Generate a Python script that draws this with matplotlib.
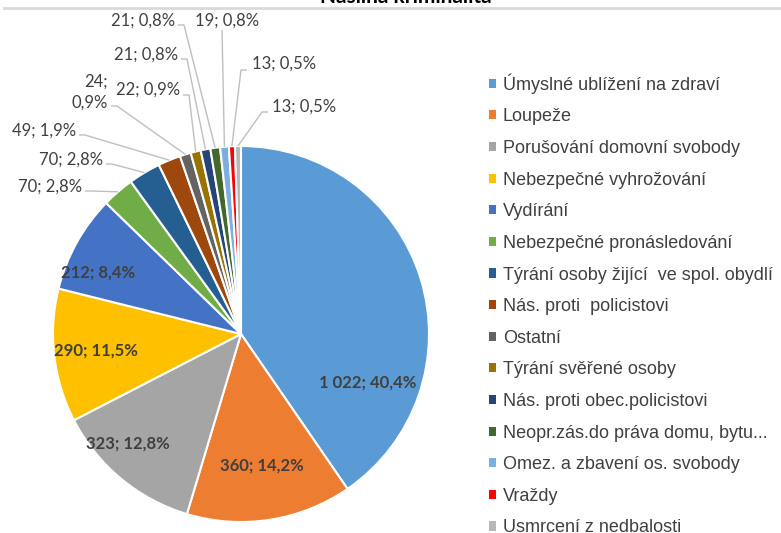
import matplotlib
matplotlib.use("Agg")
import matplotlib.pyplot as plt
import numpy as np

categories = [
    "Úmyslné ublížení na zdraví",
    "Loupeže",
    "Porušování domovní svobody",
    "Nebezpečné vyhrožování",
    "Vydírání",
    "Nebezpečné pronásledování",
    "Týrání osoby žijící  ve spol. obydlí",
    "Nás. proti  policistovi",
    "Ostatní",
    "Týrání svěřené osoby",
    "Nás. proti obec.policistovi",
    "Neopr.zás.do práva domu, bytu...",
    "Omez. a zbavení os. svobody",
    "Vraždy",
    "Usmrcení z nedbalosti",
]
values = [1022, 360, 323, 290, 212, 70, 70, 49, 24, 22, 21, 21, 19, 13, 13]
colors = ["#5B9BD5", "#ED7D31", "#A5A5A5", "#FFC000", "#4472C4", "#70AD47",
          "#255E91", "#9E480E", "#636363", "#997300", "#264478", "#43682B",
          "#7CAFDD", "#FF0000", "#B7B7B7"]
title = "Násilná kriminalita"

W, H = 781, 533
fig = plt.figure(figsize=(W / 100, H / 100), dpi=100)
ax = fig.add_axes([0, 0, 1, 1])

cx, cy_px, R = 241, 334, 188
cy = H - cy_px

wedges, _ = ax.pie(values, colors=colors, startangle=90, counterclock=False,
                   center=(cx, cy), radius=R,
                   wedgeprops=dict(edgecolor="white", linewidth=1.5))
ax.set_xlim(0, W)
ax.set_ylim(0, H)
ax.set_aspect("auto")
ax.axis("off")

total = sum(values)


def fmt_val(v):
    return f"{v:,}".replace(",", " ")


def fmt_pct(v):
    return f"{100 * v / total:.1f}".replace(".", ",") + "%"


labels = [f"{fmt_val(v)}; {fmt_pct(v)}" for v in values]

txt_color = "#404040"
label_font = "Lato"

# inside labels (pixel positions, y down)
inside_pos = {0: (368, 383), 1: (262, 466), 2: (128, 444), 3: (96, 351), 4: (98, 273)}
for i, (px, py) in inside_pos.items():
    ax.text(px, H - py, labels[i], ha="center", va="center", fontsize=12,
            fontweight="bold", color=txt_color, family=label_font)

# outside labels: (text anchor x, y, ha, line start x, y)
outside = {
    5: (82, 187, "right", 85, 191),
    6: (103, 160, "right", 106, 164),
    7: (76, 131, "right", 79, 135),
    8: (108, 92, "right", 111, 106),
    9: (180, 90, "right", 183, 95),
    10: (178, 55, "right", 181, 59),
    11: (175, 21, "right", 178, 25),
    12: (195, 21, "left", 222, 30),
    13: (252, 64, "left", 247, 70),
    14: (272, 107, "left", 268, 112),
}
cum = np.cumsum([0] + values[:-1])
for i, (tx, ty, ha, lx, ly) in outside.items():
    frac = (cum[i] + values[i] / 2) / total
    th = np.deg2rad(90 - 360 * frac)
    ex, ey = cx + R * np.cos(th), cy + R * np.sin(th)
    text = labels[i]
    if i == 8:
        text = text.replace("; ", ";\n")
    ax.text(tx, H - ty, text, ha=ha, va="center", fontsize=12,
            color=txt_color, family=label_font, linespacing=1.4)
    if ha == "right":
        ex2 = lx + 6
    else:
        ex2 = lx - 6 if i != 12 else lx
    ax.plot([lx, ex2, ex], [H - ly, H - ly, ey], color="#BFBFBF", lw=1,
            solid_capstyle="butt")

# title (clipped at top, as in the original) and top rule
ax.text(406, H - 3, title, ha="center", va="baseline", fontsize=15,
        fontweight="bold", color="#000000", family=label_font)
ax.plot([4, W], [H - 8, H - 8], color="#D9D9D9", lw=2)

leg = ax.legend(wedges, categories, loc="upper left",
                bbox_to_anchor=(473 / W, 1 - 57 / H), frameon=False,
                labelspacing=0.81, handlelength=0.4,
                handleheight=0.4, handletextpad=0.35,
                prop={"family": "Liberation Sans", "size": 13})
for t in leg.get_texts():
    t.set_color(txt_color)
for h in leg.legend_handles:
    h.set_linewidth(0)

fig.savefig("out.png", dpi=100)
